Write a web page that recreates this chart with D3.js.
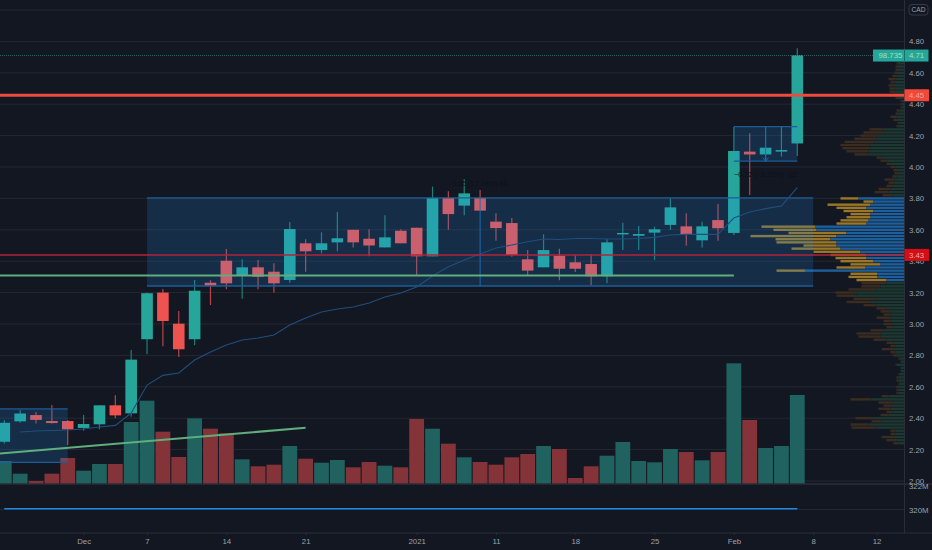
<!DOCTYPE html>
<html>
<head>
<meta charset="utf-8">
<script src="https://cdn.jsdelivr.net/npm/d3@7"></script>
<style>
  html, body { margin: 0; padding: 0; background: #131722; overflow: hidden; }
  svg { display: block; }
  text { font-family: "Liberation Sans", Arial, sans-serif; }
</style>
</head>
<body>
<div id="chart"></div>
<script>
// candles, one entry per session
var opens = [2.25,2.38,2.42,2.382,2.382,2.338,2.361,2.482,2.431,2.903,3.20,3.002,2.903,3.263,3.403,3.308,3.361,3.333,3.28,3.514,3.471,3.52,3.60,3.543,3.488,3.594,3.613,3.431,3.803,3.754,3.803,3.652,3.643,3.412,3.361,3.435,3.393,3.382,3.304,3.573,3.562,3.582,3.631,3.622,3.533,3.662,3.58,4.098,4.08,4.098,4.15];
var closes = [2.371,2.43,2.389,2.369,2.329,2.363,2.482,2.418,2.773,3.196,3.019,2.839,3.212,3.244,3.259,3.361,3.301,3.259,3.605,3.463,3.514,3.546,3.52,3.50,3.552,3.514,3.431,3.803,3.70,3.832,3.722,3.611,3.44,3.34,3.471,3.352,3.352,3.304,3.52,3.58,3.573,3.603,3.743,3.569,3.622,3.61,4.102,4.08,4.123,4.108,4.713];
var highs = [2.389,2.452,2.44,2.484,2.389,2.42,2.482,2.546,2.834,3.20,3.223,3.083,3.28,3.28,3.478,3.412,3.408,3.387,3.65,3.54,3.584,3.713,3.60,3.603,3.692,3.603,3.613,3.875,3.845,3.922,3.853,3.705,3.675,3.471,3.571,3.48,3.438,3.444,3.541,3.645,3.624,3.62,3.80,3.705,3.652,3.764,4.257,4.215,4.257,4.257,4.756];
var lows = [2.239,2.371,2.367,2.367,2.229,2.32,2.329,2.40,2.41,2.809,2.858,2.79,2.864,3.121,3.221,3.161,3.221,3.20,3.263,3.333,3.45,3.463,3.488,3.431,3.488,3.514,3.31,3.431,3.60,3.692,3.722,3.531,3.429,3.31,3.361,3.278,3.331,3.248,3.259,3.471,3.471,3.408,3.60,3.499,3.488,3.53,3.567,3.822,4.034,4.066,4.07];
var volumes = [23,10.3,3,10.3,26,13.3,20,20,62,83.3,52.3,27,65.7,55.3,50.7,24.7,17.7,19.3,38,25.3,21.3,24,16.7,22,18.3,16.7,65,55.3,40.3,26.7,22,19.3,26.7,30,38,35,6,17.7,28.3,42,23,21.7,35,32,23.7,32,120.7,64,36,38,89];
var ema = [null,2.312,2.318,2.322,2.325,2.331,2.344,2.354,2.433,2.611,2.673,2.688,2.771,2.822,2.866,2.898,2.911,2.93,2.994,3.038,3.076,3.096,3.108,3.134,3.172,3.197,3.236,3.306,3.365,3.408,3.446,3.484,3.503,3.524,3.541,3.538,3.545,3.545,3.541,3.541,3.545,3.552,3.567,3.571,3.571,3.571,3.675,3.713,3.735,3.752,3.868];

// axis labels
var priceTicks = [4.80,4.60,4.40,4.20,4.00,3.80,3.60,3.40,3.20,3.00,2.80,2.60,2.40,2.20,2.00];
var gridOnly = [5.00];
var dateTicks = [5,9,14,19,26,31,36,41,46,51,55];
var dateLabels = ["Dec","7","14","21","2021","11","18","25","Feb","8","12"];

// volume profile rows, top to bottom
var vpPrices = [4.68,4.66,4.64,4.62,4.60,4.58,4.56,4.54,4.52,4.50,4.48,4.46,4.44,4.42,4.40,4.38,4.36,4.34,4.32,4.30,4.28,4.26,4.24,4.22,4.20,4.18,4.16,4.14,4.12,4.10,4.08,4.06,4.04,4.02,4.00,3.98,3.96,3.94,3.92,3.90,3.88,3.86,3.84,3.82,
  3.80,3.78,3.76,3.74,3.72,3.70,3.68,3.66,3.64,3.62,3.60,3.58,3.56,3.54,3.52,3.50,3.48,3.46,3.44,3.42,3.40,3.38,3.36,3.34,3.32,3.30,3.28,
  3.26,3.24,3.22,3.20,3.18,3.16,3.14,3.12,3.10,3.08,3.06,3.04,3.02,3.00,2.98,2.96,2.94,2.92,2.90,2.88,2.86,2.84,2.82,2.80,2.78,2.76,2.74,2.72,2.70,2.68,2.66,2.64,2.62,2.60,2.58,2.56,2.54,2.52,2.50,2.48,2.46,2.44,2.42,2.40,2.38,2.36,2.34,2.32,2.30,2.28,2.26,2.24];
var vpTotal = [7,8,9,9,10,12,16,14,16,15,15,12,9,4,4,4,8,9,14,11,7,8,35,41,44,50,60,64,62,58,50,28,24,18,14,11,10,12,20,16,18,26,30,22,
  64,41,77,68,61,54,58,64,68,143,131,116,154,129,128,101,113,91,74,69,64,54,68,128,54,56,48,
  43,43,56,69,68,51,58,41,28,24,21,28,21,21,18,34,48,46,31,18,14,23,14,11,6,4,9,4,4,6,8,8,6,8,8,8,23,54,26,21,26,18,24,49,33,54,53,14,14,23,18,11];
var vpUp = [6,7,7,6,7,7,9,10,11,10,9,8,7,3,3,3,5,6,8,7,5,6,22,20,28,28,30,35,34,36,36,22,18,14,9,7,6,8,10,10,11,14,16,12,
  46,31,34,38,31,34,34,36,38,89,88,58,68,74,68,68,64,44,38,38,31,24,39,99,27,27,18,
  18,24,28,51,48,29,34,28,18,14,13,14,14,13,11,21,24,24,18,11,9,11,9,8,4,4,8,4,4,5,6,6,5,6,6,6,16,33,11,13,14,11,16,31,23,36,28,9,9,11,8,6];

// level lines and the text of their labels
var levelHigh = 4.457, levelLow = 3.44, lastPrice = 4.71;
var levelHighText = "4.45", levelLowText = "3.43", lastPriceText = "4.71", lastStudyText = "98.735";

// set the dimensions of the graph
var width = 932, height = 550;
var axisX = 904.5, paneBottom = 484, timeTop = 533;
var labelFont = "7.8px";

var svg = d3.select("#chart")
  .append("svg")
    .attr("width", width)
    .attr("height", height);

// scales
var x = d3.scaleLinear().domain([0, 55]).range([4.3, 876.6]);
var y = d3.scaleLinear().domain([2, 4.8]).range([481, 41.4]);
var yVol = d3.scaleLinear().domain([0, 120.7]).range([paneBottom, 363.3]);
var yLow = d3.scaleLinear().domain([320, 322]).range([509.5, 486]);
var xVp = d3.scaleLinear().domain([0, 154]).range([axisX, axisX - 154]);

var isUp = i => closes[i] >= opens[i];
var idx = d3.range(opens.length);

// grid
svg.append("g")
  .selectAll("line")
  .data(priceTicks.concat(gridOnly))
  .enter()
  .append("line")
    .attr("x1", 0).attr("x2", axisX)
    .attr("y1", d => y(d)).attr("y2", d => y(d))
    .style("stroke", "#242833");
svg.append("line")
  .attr("x1", 0).attr("x2", axisX)
  .attr("y1", yLow(320)).attr("y2", yLow(320))
  .style("stroke", "#242833");

// volume
svg.append("g")
  .selectAll("rect")
  .data(idx)
  .enter()
  .append("rect")
    .attr("x", i => x(i) - 7.4)
    .attr("y", i => yVol(volumes[i]))
    .attr("width", 14.8)
    .attr("height", i => yVol(0) - yVol(volumes[i]))
    .style("fill", i => isUp(i) ? "#1f625f" : "#843438");

// volume profile
var inValueArea = p => p <= 3.805 && p >= 3.275;
var vp = svg.append("g");
vp.selectAll(".vpdown")
  .data(vpPrices)
  .enter()
  .append("rect")
    .attr("x", (d, i) => xVp(vpTotal[i]))
    .attr("y", d => y(d) - 1.2)
    .attr("width", (d, i) => xVp(vpUp[i]) - xVp(vpTotal[i]))
    .attr("height", 2.4)
    .style("fill", d => inValueArea(d) ? "#9a7628" : "#3b2c20");
vp.selectAll(".vpup")
  .data(vpPrices)
  .enter()
  .append("rect")
    .attr("x", (d, i) => xVp(vpUp[i]))
    .attr("y", d => y(d) - 1.2)
    .attr("width", (d, i) => xVp(0) - xVp(vpUp[i]))
    .attr("height", 2.4)
    .style("fill", d => inValueArea(d) ? "#1c5f9c" : "#1c3831");

// candles
var candles = svg.append("g");
candles.selectAll("line")
  .data(idx)
  .enter()
  .append("line")
    .attr("x1", i => x(i)).attr("x2", i => x(i))
    .attr("y1", i => y(highs[i])).attr("y2", i => y(lows[i]))
    .style("stroke", i => isUp(i) ? "#1f7f78" : "#b5474a")
    .style("stroke-width", 1.2);
candles.selectAll("rect")
  .data(idx)
  .enter()
  .append("rect")
    .attr("x", i => x(i) - 5.8)
    .attr("y", i => y(Math.max(opens[i], closes[i])))
    .attr("width", 11.6)
    .attr("height", i => Math.max(1.5, Math.abs(y(opens[i]) - y(closes[i]))))
    .style("fill", i => isUp(i) ? "#26a69a" : "#ef5350");

// drawn boxes, these sit on top of the candles
var boxes = [
  {x0: -1, x1: 4, top: 2.459, bottom: 2.119},
  {x0: 9, x1: 51, top: 3.803, bottom: 3.242},
  {x0: 46, x1: 50, top: 4.257, bottom: 4.038}
];
boxes.forEach(b => {
  svg.append("rect")
    .attr("x", x(b.x0)).attr("y", y(b.top))
    .attr("width", x(b.x1) - x(b.x0))
    .attr("height", y(b.bottom) - y(b.top))
    .style("fill", "rgba(33,150,243,.18)");
  [b.top, b.bottom].forEach(p => {
    svg.append("line")
      .attr("x1", x(b.x0)).attr("x2", x(b.x1))
      .attr("y1", y(p)).attr("y2", y(p))
      .style("stroke", "#1d5c96")
      .style("stroke-width", 1.3);
  });
});

// measure tool verticals
svg.append("line")
  .attr("x1", x(30)).attr("x2", x(30))
  .attr("y1", y(3.803)).attr("y2", y(3.242))
  .style("stroke", "#1c6cb5");
svg.append("line")
  .attr("x1", x(48)).attr("x2", x(48))
  .attr("y1", y(4.257)).attr("y2", y(4.038))
  .style("stroke", "#1c6cb5");
svg.append("path")
  .attr("d", d3.line()([[x(48) - 3, y(4.06)], [x(48), y(4.038)], [x(48) + 3, y(4.06)]]))
  .style("fill", "none")
  .style("stroke", "#1c6cb5");

// ema
svg.append("path")
  .datum(idx)
  .attr("d", d3.line().defined(i => ema[i] !== null).x(i => x(i)).y(i => y(ema[i])))
  .style("fill", "none")
  .style("stroke", "#1f4f7d")
  .style("stroke-width", 1.1);

// trend lines
svg.append("line")
  .attr("x1", x(-1)).attr("x2", x(46))
  .attr("y1", y(3.309)).attr("y2", y(3.309))
  .style("stroke", "#5fae7c")
  .style("stroke-width", 2);
svg.append("line")
  .attr("x1", x(-0.27)).attr("x2", x(19))
  .attr("y1", y(2.175)).attr("y2", y(2.339))
  .style("stroke", "#5fae7c")
  .style("stroke-width", 2);

// horizontal levels
svg.append("line")
  .attr("x1", 0).attr("x2", axisX)
  .attr("y1", y(levelLow)).attr("y2", y(levelLow))
  .style("stroke", "#b0243a")
  .style("stroke-width", 1.5);
svg.append("line")
  .attr("x1", 0).attr("x2", axisX)
  .attr("y1", y(levelHigh)).attr("y2", y(levelHigh))
  .style("stroke", "#ef4a3c")
  .style("stroke-width", 3);
svg.append("line")
  .attr("x1", 0).attr("x2", axisX)
  .attr("y1", y(lastPrice)).attr("y2", y(lastPrice))
  .style("stroke", "#1f625f")
  .style("stroke-dasharray", "1,1");

// lower pane line
svg.append("line")
  .attr("x1", x(0)).attr("x2", x(50))
  .attr("y1", yLow(320.07)).attr("y2", yLow(320.07))
  .style("stroke", "#1e88e5")
  .style("stroke-width", 1.5);

// measure labels, nearly the same colour as the background
svg.append("text")
  .attr("x", 480).attr("y", 186)
  .style("text-anchor", "middle")
  .style("font-size", "7.2px")
  .style("fill", "#0d1018")
  .text("0.55 (17.38%) 56");
svg.append("text")
  .attr("x", 766).attr("y", 177)
  .style("text-anchor", "middle")
  .style("font-size", "7.2px")
  .style("fill", "#0d1018")
  .text("\u22120.22 (\u22125.23%) \u221222");

// pane borders
svg.append("line")
  .attr("x1", 0).attr("x2", width)
  .attr("y1", paneBottom).attr("y2", paneBottom)
  .style("stroke", "#2a2e39")
  .style("stroke-width", 1.5);
svg.append("line")
  .attr("x1", 0).attr("x2", width)
  .attr("y1", timeTop).attr("y2", timeTop)
  .style("stroke", "#2a2e39");
svg.append("line")
  .attr("x1", axisX).attr("x2", axisX)
  .attr("y1", 0).attr("y2", timeTop)
  .style("stroke", "#2a2e39");

// price axis
var yAxis = svg.append("g")
  .attr("transform", "translate(" + (axisX + 4.5) + ",0)")
  .call(d3.axisRight(y).tickValues(priceTicks).tickFormat(d3.format(".2f")).tickSize(0).tickPadding(0));
var lowAxis = svg.append("g")
  .attr("transform", "translate(" + (axisX + 4.5) + ",0)")
  .call(d3.axisRight(yLow).tickValues([322, 320]).tickFormat(d => d + "M").tickSize(0).tickPadding(0));
[yAxis, lowAxis].forEach(a => {
  a.select(".domain").remove();
  a.selectAll("text").style("font-size", labelFont).style("fill", "#9da1ab")
    .style("font-family", '"Liberation Sans", Arial, sans-serif');
});

// time axis
var xAxis = svg.append("g")
  .attr("transform", "translate(0," + timeTop + ")")
  .call(d3.axisBottom(x).tickValues(dateTicks).tickFormat((d, i) => dateLabels[i]).tickSize(2).tickPadding(3.5));
xAxis.select(".domain").remove();
xAxis.selectAll("line").style("stroke", "#2a2e39");
xAxis.selectAll("text").style("font-size", labelFont).style("fill", "#9da1ab")
  .style("font-family", '"Liberation Sans", Arial, sans-serif');

// price labels on the axis
var priceLabels = [
  {price: levelHigh, text: levelHighText, fill: "#f2483a", color: "#e9a79a"},
  {price: levelLow, text: levelLowText, fill: "#d50d15", color: "#f0a9ac"}
];
priceLabels.forEach(l => {
  svg.append("rect")
    .attr("x", axisX).attr("y", y(l.price) - 6)
    .attr("width", 24.5).attr("height", 12)
    .style("fill", l.fill);
  svg.append("text")
    .attr("x", axisX + 4.5).attr("y", y(l.price) + 2.8)
    .style("font-size", labelFont)
    .style("fill", l.color)
    .text(l.text);
});

svg.append("rect")
  .attr("x", 873).attr("y", y(lastPrice) - 6)
  .attr("width", 55.5).attr("height", 12)
  .style("fill", "#26a69a");
svg.append("line")
  .attr("x1", axisX).attr("x2", axisX)
  .attr("y1", y(lastPrice) - 6).attr("y2", y(lastPrice) + 6)
  .style("stroke", "#1a6f68");
svg.append("text")
  .attr("x", 878.5).attr("y", y(lastPrice) + 2.8)
  .style("font-size", labelFont)
  .style("fill", "#9fe3b5")
  .text(lastStudyText);
svg.append("text")
  .attr("x", axisX + 4.5).attr("y", y(lastPrice) + 2.8)
  .style("font-size", labelFont)
  .style("fill", "#9fe3b5")
  .text(lastPriceText);

// currency badge
svg.append("rect")
  .attr("x", 909).attr("y", 4.5)
  .attr("width", 19).attr("height", 10.5)
  .attr("rx", 3)
  .style("fill", "none")
  .style("stroke", "#363a45");
svg.append("text")
  .attr("x", 918.5).attr("y", 12.2)
  .style("text-anchor", "middle")
  .style("font-size", "6.6px")
  .style("fill", "#9da1ab")
  .text("CAD");
</script>
</body>
</html>
